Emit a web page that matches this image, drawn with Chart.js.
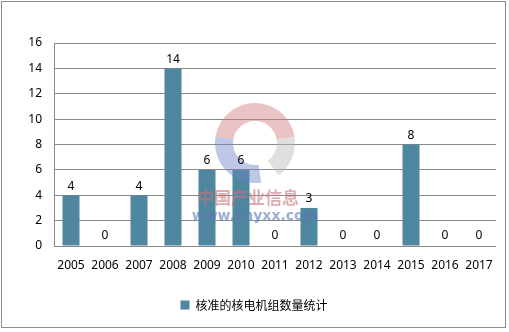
<!DOCTYPE html>
<html>
<head>
<meta charset="utf-8">
<script src="https://cdn.jsdelivr.net/npm/chart.js@4/dist/chart.umd.min.js"></script>
<style>
  html, body { margin: 0; padding: 0; background: #fff; }
  #wrap { width: 509px; height: 332px; position: relative; }
</style>
</head>
<body>
<div id="wrap"><canvas id="myChart" width="509" height="332"></canvas></div>
<script>
var years = ['2005','2006','2007','2008','2009','2010','2011','2012','2013','2014','2015','2016','2017'];
var units = [4, 0, 4, 14, 6, 6, 0, 3, 0, 0, 8, 0, 0];
var seriesName = '核准的核电机组数量统计';

// border + watermark + value labels
var extras = {
  id: 'extras',
  beforeDraw: function(chart) {
    var ctx = chart.ctx;
    ctx.save();
    ctx.fillStyle = '#fff';
    ctx.fillRect(0, 0, chart.width, chart.height);
    ctx.strokeStyle = '#8c8c8c';
    ctx.lineWidth = 1;
    ctx.strokeRect(1.5, 1.5, 504, 326);
    ctx.restore();
  },
  afterDatasetsDraw: function(chart) {
    var ctx = chart.ctx;
    // watermark logo
    ctx.save();
    var cx = 255, cy = 143;
    ctx.lineWidth = 18;
    ctx.globalAlpha = 0.45;
    ctx.strokeStyle = '#d07a80';
    ctx.beginPath(); ctx.arc(cx, cy, 31, Math.PI * 1.05, Math.PI * 1.95); ctx.stroke();
    ctx.strokeStyle = '#6f86c8';
    ctx.beginPath(); ctx.arc(cx, cy, 31, Math.PI * 0.45, Math.PI * 1.05); ctx.stroke();
    ctx.strokeStyle = '#b8b8b8';
    ctx.beginPath(); ctx.arc(cx, cy, 31, Math.PI * 1.95, Math.PI * 2.3); ctx.stroke();
    ctx.globalAlpha = 0.6;
    ctx.font = 'bold 17px "Noto Sans CJK SC"';
    ctx.fillStyle = '#c9747a';
    ctx.textAlign = 'center';
    ctx.textBaseline = 'middle';
    ctx.fillText('中国产业信息', 248, 198);
    ctx.font = 'bold 14px "DejaVu Sans"';
    ctx.fillStyle = '#5a78b8';
    ctx.fillText('www.chyxx.com', 255, 216);
    ctx.restore();

    // value labels
    ctx.save();
    ctx.font = '12px "Noto Sans"';
    ctx.fillStyle = '#000';
    ctx.textAlign = 'center';
    ctx.textBaseline = 'bottom';
    var meta = chart.getDatasetMeta(0);
    meta.data.forEach(function(bar, i) {
      ctx.fillText(String(units[i]), bar.x, units[i] === 0 ? bar.y - 4 : bar.y - 3);
    });
    ctx.restore();
  }
};

var ctx = document.getElementById('myChart').getContext('2d');
var myChart = new Chart(ctx, {
  type: 'bar',
  data: {
    labels: years,
    datasets: [{
      label: seriesName,
      data: units,
      backgroundColor: '#4f86a0',
      categoryPercentage: 0.5,
      barPercentage: 1
    }]
  },
  options: {
    responsive: false,
    animation: false,
    layout: { padding: { left: 12, right: 13, top: 43, bottom: 11 } },
    plugins: {
      tooltip: { enabled: false },
      legend: {
        position: 'bottom',
        labels: {
          font: { family: '"Noto Sans CJK SC"', size: 12 },
          color: '#000',
          boxWidth: 9,
          boxHeight: 9,
          padding: 10
        }
      }
    },
    scales: {
      x: {
        grid: { display: false },
        border: { display: false },
        ticks: { color: '#000', font: { family: '"Noto Sans"', size: 12 }, padding: 4, maxRotation: 0 },
        afterFit: function(scale) { scale.height = 43; }
      },
      y: {
        min: 0, max: 16,
        ticks: { stepSize: 2, color: '#000', font: { family: '"Noto Sans"', size: 12 }, padding: 12 },
        grid: { color: '#8a8a8a', drawTicks: false },
        border: { display: true, color: '#8a8a8a' },
        afterFit: function(scale) { scale.width = 42; }
      }
    }
  },
  plugins: [extras]
});
</script>
</body>
</html>
